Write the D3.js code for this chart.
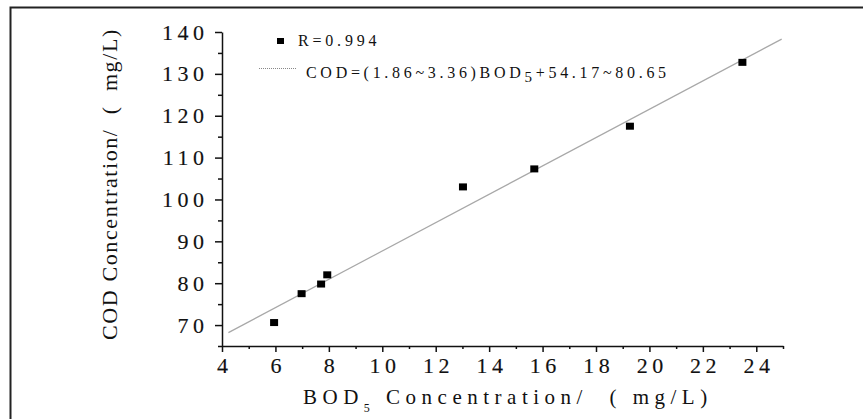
<!DOCTYPE html>
<html>
<head>
<meta charset="utf-8">
<script src="https://cdn.jsdelivr.net/npm/d3@7"></script>
<style>
    body { margin: 0; background: #fff; }
    text { font-family: "Liberation Serif", "Times New Roman", serif; fill: #111; white-space: pre; }
</style>
</head>
<body>
<script>
// data
const bodValues = [5.95, 6.98, 7.71, 7.94, 13.02, 15.69, 19.27, 23.48];
const codValues = [70.6, 77.5, 79.8, 82.0, 103.0, 107.3, 117.5, 132.75];
const fitX = [4.24, 24.95];
const fitY = [68.2, 138.3];
const xTicks = [4, 6, 8, 10, 12, 14, 16, 18, 20, 22, 24];
const yTicks = [70, 80, 90, 100, 110, 120, 130, 140];
const legendR = "R=0.994";
const legendFit = ["COD=(1.86~3.36)BOD", "5", "+54.17~80.65"];

const W = 863, H = 419;

// plot area
const x = d3.scaleLinear().domain([4, 25]).range([222, 783]);
const y = d3.scaleLinear().domain([65, 140]).range([346, 32]);

const svg = d3.select("body").append("svg")
    .attr("width", W)
    .attr("height", H);

// outer frame (only top and left edges are inside the picture)
svg.append("rect")
    .attr("x", 10.5).attr("y", 7.5)
    .attr("width", 900).attr("height", 450)
    .attr("fill", "none")
    .attr("stroke", "#222")
    .attr("stroke-width", 2);

// minor ticks
svg.append("g")
    .attr("transform", "translate(0,346)")
    .call(d3.axisBottom(x).tickValues(d3.range(5, 26, 2)).tickSize(3).tickFormat(""))
    .call(g => g.select(".domain").remove());
svg.append("g")
    .attr("transform", "translate(222,0)")
    .call(d3.axisLeft(y).tickValues(d3.range(65, 140, 10)).tickSize(4).tickFormat(""))
    .call(g => g.select(".domain").remove());

// x axis
const xAxis = svg.append("g")
    .attr("transform", "translate(0,346)")
    .call(d3.axisBottom(x).tickValues(xTicks).tickSize(6).tickSizeOuter(0).tickPadding(5));
xAxis.selectAll("text")
    .style("font-size", "22px")
    .style("letter-spacing", "4.5px")
    .attr("dx", "2.25px");

// y axis
const yAxis = svg.append("g")
    .attr("transform", "translate(222,0)")
    .call(d3.axisLeft(y).tickValues(yTicks).tickSize(7).tickSizeOuter(0).tickPadding(11));
yAxis.selectAll("text")
    .style("font-size", "22px")
    .style("letter-spacing", "4.5px")
    .attr("dx", "4.5px");

svg.selectAll(".tick text")
    .attr("fill", "#111")
    .attr("stroke", "#111")
    .attr("stroke-width", 0.15);

svg.selectAll(".domain, .tick line")
    .attr("stroke", "#111")
    .attr("stroke-width", 1.5);

// fit line
svg.append("line")
    .attr("x1", x(fitX[0])).attr("y1", y(fitY[0]))
    .attr("x2", x(fitX[1])).attr("y2", y(fitY[1]))
    .attr("stroke", "#a8a8a8")
    .attr("stroke-width", 1.2);

// points
svg.selectAll(".pt")
    .data(bodValues)
    .enter().append("rect")
    .attr("class", "pt")
    .attr("x", d => x(d) - 4)
    .attr("y", (d, i) => y(codValues[i]) - 3.5)
    .attr("width", 8)
    .attr("height", 7)
    .attr("fill", "#000");

// legend
svg.append("rect")
    .attr("x", 277).attr("y", 38)
    .attr("width", 7).attr("height", 6)
    .attr("fill", "#000");
svg.append("text")
    .attr("x", 298).attr("y", 46)
    .style("font-size", "16px")
    .style("letter-spacing", "3.8px")
    .text(legendR);

svg.append("line")
    .attr("x1", 259).attr("x2", 297)
    .attr("y1", 68.5).attr("y2", 68.5)
    .attr("stroke", "#888")
    .attr("stroke-width", 1)
    .attr("stroke-dasharray", "1,1");
const lf = svg.append("text")
    .attr("x", 306).attr("y", 78)
    .style("font-size", "16px")
    .style("letter-spacing", "3.7px");
lf.append("tspan").text(legendFit[0]);
lf.append("tspan").attr("dy", 4).style("font-size", "15px").text(legendFit[1]);
lf.append("tspan").attr("dy", -4).text(legendFit[2]);

// axis titles
const xt = svg.append("text")
    .attr("x", 303).attr("y", 404)
    .style("font-size", "21px")
    .style("letter-spacing", "5.5px");
xt.append("tspan").text("BOD");
xt.append("tspan").attr("dy", 8).style("font-size", "12px").text("5");
xt.append("tspan").attr("dy", -8).text(" Concentration/  ( mg/L)");

svg.append("text")
    .attr("transform", "translate(117,184) rotate(-90)")
    .attr("text-anchor", "middle")
    .style("font-size", "22px")
    .style("letter-spacing", "1.6px")
    .text("COD Concentration/  (  mg/L)");
</script>
</body>
</html>
